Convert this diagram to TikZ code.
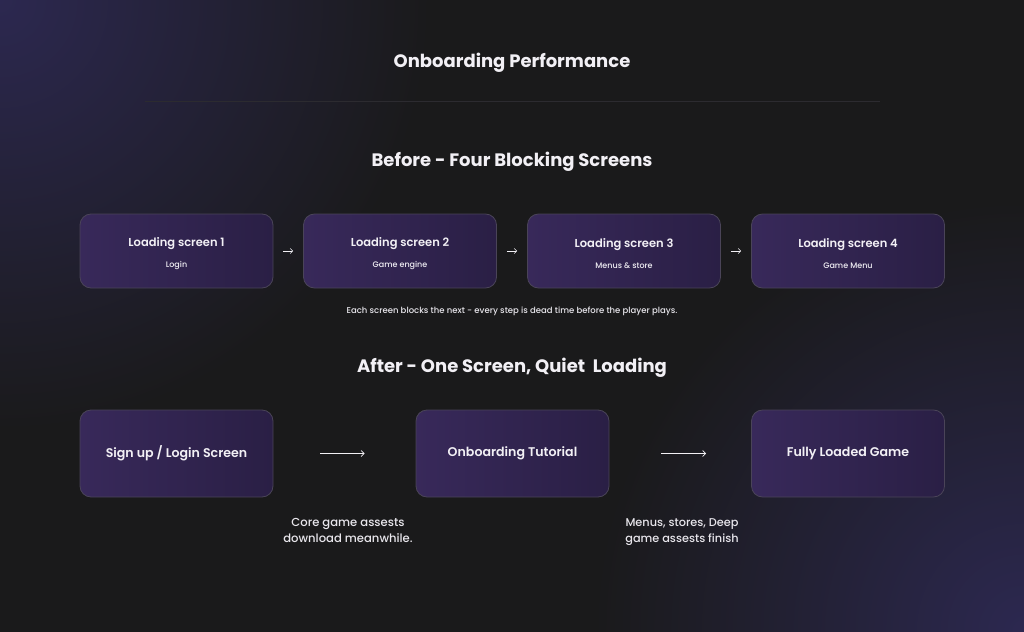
\documentclass[tikz,border=0pt]{standalone}
\usepackage{fontspec}
\setmainfont{Poppins}[UprightFont={* Medium}, BoldFont={* Bold}]
\newfontfamily\semib{Poppins SemiBold}
\usetikzlibrary{arrows.meta}
\definecolor{bg}{HTML}{1A1A1B}
\definecolor{glow}{HTML}{2C2850}
\definecolor{boxL}{HTML}{38295A}
\definecolor{boxR}{HTML}{2A1F45}
\definecolor{boxB}{HTML}{4A4458}
\definecolor{txt}{HTML}{F2F0F5}
\definecolor{cap}{HTML}{E8E6EC}
\definecolor{rule}{HTML}{2C2B30}
\tikzset{
  screen/.style={draw=boxB, line width=0.8pt, rounded corners=11pt, left color=boxL, right color=boxR, minimum width=193pt, inner sep=0pt, align=center, text=txt},
  small/.style={screen, minimum height=74pt},
  big/.style={screen, minimum height=87pt, font=\semib\fontsize{12.6}{15}\selectfont},
  label/.style={text=txt, align=center, inner sep=0pt},
  head/.style={text=txt, font=\bfseries\fontsize{18}{20}\selectfont},
  capt/.style={text=cap, align=center, font=\fontsize{11.6}{16}\selectfont},
  flow/.style={draw=txt, line width=0.7pt, -{Straight Barb[length=3pt,width=6pt]}},
  tiny/.style={draw=txt, line width=0.6pt, -{Straight Barb[length=2.5pt,width=5pt]}},
}
\newcommand{\scr}[2]{{\semib\fontsize{11.5}{14}\selectfont #1}\\[9.5pt]{\fontsize{8}{10}\selectfont #2}}
\begin{document}
\begin{tikzpicture}[x=1pt,y=-1pt]
\useasboundingbox (0,0) rectangle (1024,631);
\begin{scope}
\clip (0,0) rectangle (1024,631);
\fill[bg] (-2,-2) rectangle (1026,633);
\shade[inner color=glow, outer color=bg] (0,0) circle (430);
\shade[inner color=glow, outer color=bg] (1024,631) circle (430);
\end{scope}
\node[head] (title) at (512,63) {Onboarding Performance};
\draw[rule, line width=0.8pt] (145,101) -- (880,101);
\node[head] (before) at (512,162) {Before - Four Blocking Screens};
\node[small] (s1) at (176.5,251) {};
\node[small] (s2) at (400,251) {};
\node[small] (s3) at (624,251) {};
\node[small] (s4) at (848,251) {};
\node[label] (t1) at ([yshift=-2.5pt]s1.center) {\scr{Loading screen 1}{Login}};
\node[label] (t2) at ([yshift=-2.5pt]s2.center) {\scr{Loading screen 2}{Game engine}};
\node[label] (t3) at ([yshift=-2.5pt]s3.center) {\scr{Loading screen 3}{Menus \& store}};
\node[label] (t4) at ([yshift=-2.5pt]s4.center) {\scr{Loading screen 4}{Game Menu}};
\draw[tiny] ([xshift=10pt]s1.east) -- ([xshift=-10pt]s2.west);
\draw[tiny] ([xshift=10pt]s2.east) -- ([xshift=-10pt]s3.west);
\draw[tiny] ([xshift=10pt]s3.east) -- ([xshift=-10pt]s4.west);
\node[capt, font=\fontsize{8.5}{10}\selectfont] (c0) at (512,311) {Each screen blocks the next - every step is dead time before the player plays.};
\node[head] (after) at (512,368) {After - One Screen, Quiet\ \ Loading};
\node[big] (a1) at (176.5,453.5) {Sign up / Login Screen};
\node[big] (a2) at (512.5,453.5) {Onboarding Tutorial};
\node[big] (a3) at (848,453.5) {Fully Loaded Game};
\draw[flow] ([xshift=47pt]a1.east) -- ([xshift=-51pt]a2.west);
\draw[flow] ([xshift=52pt]a2.east) -- ([xshift=-45pt]a3.west);
\node[capt] (c1) at (348,530) {Core game assests\\download meanwhile.};
\node[capt, font=\fontsize{11.3}{16}\selectfont] (c2) at (682,532) {Menus, stores, Deep\\game assests finish};
\end{tikzpicture}
\end{document}
